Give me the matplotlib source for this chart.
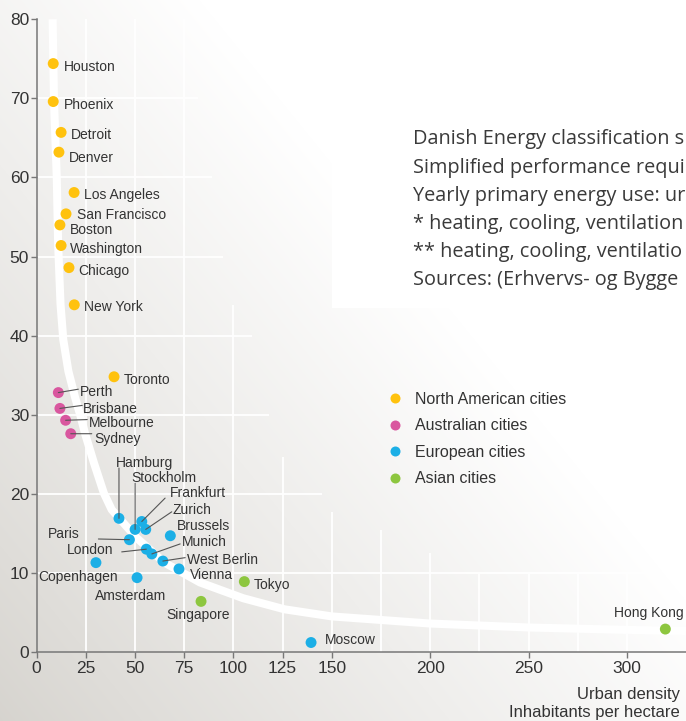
import numpy as np
import matplotlib.pyplot as plt
from matplotlib.lines import Line2D

plt.rcParams['font.family'] = ['Liberation Sans', 'DejaVu Sans']

# ---- data: urban density (inh/ha) vs energy use ----
na_names = ['Houston', 'Phoenix', 'Detroit', 'Denver', 'Los Angeles', 'San Francisco',
            'Boston', 'Washington', 'Chicago', 'New York', 'Toronto']
na_density = [8.5, 8.5, 12.5, 11.4, 19.1, 15.0, 11.9, 12.5, 16.5, 19.2, 39.4]
na_energy = [74.4, 69.6, 65.7, 63.2, 58.1, 55.4, 54.0, 51.4, 48.6, 43.9, 34.8]

au_names = ['Perth', 'Brisbane', 'Melbourne', 'Sydney']
au_density = [11.1, 11.9, 14.8, 17.4]
au_energy = [32.8, 30.8, 29.3, 27.6]

eu_names = ['Hamburg', 'Stockholm', 'Frankfurt', 'Zurich', 'Brussels', 'Munich',
            'West Berlin', 'Vienna', 'Paris', 'London', 'Copenhagen', 'Amsterdam', 'Moscow']
eu_density = [41.9, 50.1, 53.5, 55.5, 68.0, 58.6, 64.2, 72.4, 47.2, 55.8, 30.2, 51.1, 139.5]
eu_energy = [16.9, 15.5, 16.5, 15.5, 14.7, 12.4, 11.5, 10.5, 14.2, 13.0, 11.3, 9.4, 1.2]

as_names = ['Tokyo', 'Singapore', 'Hong Kong']
as_density = [105.6, 83.6, 319.5]
as_energy = [8.9, 6.4, 2.9]

group_labels = ['North American cities', 'Australian cities', 'European cities', 'Asian cities']
group_colors = ['#ffc20e', '#d9579f', '#1cafe6', '#8dc63f']

# white trend curve
curve_x = [8.2, 8.9, 10.3, 11.0, 12.2, 13.6, 16.2, 19.6, 22.4, 24.8, 29.2, 34.2, 38.2,
           51, 65, 83, 105, 126, 150, 200, 250, 300, 330]
curve_y = [80, 69.6, 60, 51.5, 44, 39.5, 35.5, 32.2, 29.8, 27.5, 23.9, 20.1, 18.0,
           14.4, 11.3, 8.8, 6.8, 5.4, 4.5, 3.6, 3.1, 2.8, 2.65]

x_ticks = [0, 25, 50, 75, 100, 125, 150, 200, 250, 300]
y_ticks = [0, 10, 20, 30, 40, 50, 60, 70, 80]

# partial white grid lines (fade into the light corner)
h_grid_y = [10, 20, 30, 40, 50, 60, 70]
h_grid_end = [330, 145, 118, 109.5, 95, 89, 82]
v_grid_x = [25, 50, 75, 100, 125, 150, 175, 200, 225, 250, 275, 300]
v_grid_top = [80, 80, 80, 43.9, 24.6, 17.7, 15.4, 12.5, 10, 10, 10, 10]

# the note is cut by the right edge in the original; only the visible part is kept
note_lines = ['Danish Energy classification s',
              'Simplified performance requi',
              'Yearly primary energy use: ur',
              '* heating, cooling, ventilation',
              '** heating, cooling, ventilatio',
              'Sources: (Erhvervs- og Bygge']

# label placement, pixels relative to the dot: (dx, dy_down, ha)
label_pos = {
    'Houston': (10.7, 3.7, 'left'), 'Phoenix': (10.7, 3.3, 'left'),
    'Detroit': (10, 2.3, 'left'), 'Denver': (10, 6.3, 'left'),
    'Los Angeles': (10, 2.3, 'left'), 'San Francisco': (11, 1, 'left'),
    'Boston': (10, 5, 'left'), 'Washington': (9, 3.3, 'left'),
    'Chicago': (9, 3.3, 'left'), 'New York': (9.7, 2.3, 'left'),
    'Toronto': (10, 3.3, 'left'),
    'Perth': (21.7, -1.0, 'left'), 'Brisbane': (23.3, 0.3, 'left'),
    'Melbourne': (23.6, 2.3, 'left'), 'Sydney': (23.3, 5, 'left'),
    'Hamburg': (-3, -55.6, 'left'), 'Stockholm': (-3.3, -51.6, 'left'),
    'Frankfurt': (27.6, -28.4, 'left'), 'Zurich': (27, -19.3, 'left'),
    'Brussels': (7, -9.3, 'left'), 'Munich': (30, -11.6, 'left'),
    'West Berlin': (24, -1.4, 'left'), 'Vienna': (11, 6, 'left'),
    'Paris': (-49.3, -6, 'right'), 'London': (-33, 1, 'right'),
    'Copenhagen': (-17.7, 14.6, 'center'), 'Amsterdam': (-6.2, 18.3, 'center'),
    'Moscow': (14, -2.3, 'left'),
    'Tokyo': (9.7, 3.3, 'left'), 'Singapore': (-3.3, 14, 'center'),
    'Hong Kong': (-17, -15.7, 'center'),
}
# leader line start, pixels relative to the dot
leaders = {
    'Perth': (20, -3.4), 'Brisbane': (22.3, -3), 'Melbourne': (21.6, -0.7),
    'Sydney': (21, 0), 'Hamburg': (0, -50.3), 'Stockholm': (0, -46.3),
    'Frankfurt': (23.3, -23.4), 'Zurich': (26, -17.6), 'Munich': (28.3, -10),
    'West Berlin': (22.3, -3.4), 'Paris': (-31, -0.7), 'London': (-24.6, 2.7),
}

W, H = 686, 721
fig = plt.figure(figsize=(W / 100, H / 100), dpi=100)

# background: diagonal grey-to-white wash
bg = fig.add_axes([0, 0, 1, 1], zorder=0)
bg.set_xlim(0, W)
bg.set_ylim(H, 0)
bg.axis('off')
xx, yy = np.meshgrid(np.arange(W), np.arange(H))
s = (xx * 600 - yy * 486) / 772.0
t = np.clip((s + 454) / 609.0, 0, 1)
dark = np.array([0.84, 0.83, 0.81])
img = dark + (1 - dark) * (t[..., None] ** 0.9)
bg.imshow(img, extent=[0, W, H, 0], aspect='auto', interpolation='bilinear')
bg.add_patch(plt.Rectangle((332, 0), W - 332, 308, color='white', lw=0))

for i, line in enumerate(note_lines):
    fig.text(413 / W, 1 - (139.3 + 28.2 * i) / H, line, fontsize=14.3, color='#3a3a3a',
             family=['Open Sans', 'DejaVu Sans'], va='center', ha='left')

ax = fig.add_axes([36.5 / W, (H - 652) / H, (W - 36.5) / W, (652 - 19.3) / H], zorder=1)
ax.patch.set_alpha(0)
ax.set_xlim(0, 330)
ax.set_ylim(0, 80)

for y, xe in zip(h_grid_y, h_grid_end):
    ax.plot([0, xe], [y, y], color='white', lw=1.3, zorder=1, solid_capstyle='butt')
for x, yt in zip(v_grid_x, v_grid_top):
    ax.plot([x, x], [0, yt], color='white', lw=1.3, zorder=1, solid_capstyle='butt')

ax.plot(curve_x, curve_y, color='white', lw=5.8, zorder=2, solid_joinstyle='round',
        solid_capstyle='butt', clip_on=False)

groups = [(na_names, na_density, na_energy), (au_names, au_density, au_energy),
          (eu_names, eu_density, eu_energy), (as_names, as_density, as_energy)]
for (names, dens, en), col in zip(groups, group_colors):
    ax.scatter(dens, en, s=62, color=col, edgecolors='none', zorder=3, clip_on=False)
    for n, x, y in zip(names, dens, en):
        dx, dy, ha = label_pos[n]
        ax.annotate(n, xy=(x, y), xytext=(dx, -dy), textcoords='offset pixels',
                    ha=ha, va='center', fontsize=10, color='#333333', zorder=5)
        if n in leaders:
            lx, ly = leaders[n]
            ax.annotate('', xy=(x, y), xytext=(lx, -ly), textcoords='offset pixels',
                        arrowprops=dict(arrowstyle='-', color='#555555', lw=0.8,
                                        shrinkA=0, shrinkB=0), zorder=4)

for sp in ['top', 'right']:
    ax.spines[sp].set_visible(False)
for sp in ['left', 'bottom']:
    ax.spines[sp].set_color('#777777')
    ax.spines[sp].set_linewidth(1.1)
ax.set_xticks(x_ticks)
ax.set_yticks(y_ticks)
ax.tick_params(axis='both', colors='#777777', labelcolor='#333333', length=4.3,
               width=1.0, labelsize=12.5)
ax.tick_params(axis='y', pad=1)
ax.tick_params(axis='x', pad=2)

handles = [Line2D([], [], marker='o', ls='none', markersize=7.2, color=c, markeredgewidth=0)
           for c in group_colors]
fig.legend(handles, group_labels, loc='upper left', bbox_to_anchor=(387 / W, 1 - 391.5 / H),
           frameon=False, fontsize=11.5, handlelength=1.0, handletextpad=0.75,
           labelspacing=0.73, borderpad=0, borderaxespad=0, labelcolor='#333333')

fig.text(680 / W, 1 - 694 / H, 'Urban density', ha='right', va='center', fontsize=12,
         color='#333333')
fig.text(680 / W, 1 - 713 / H, 'Inhabitants per hectare', ha='right', va='center',
         fontsize=12, color='#333333')

fig.savefig('out.png', dpi=100)
